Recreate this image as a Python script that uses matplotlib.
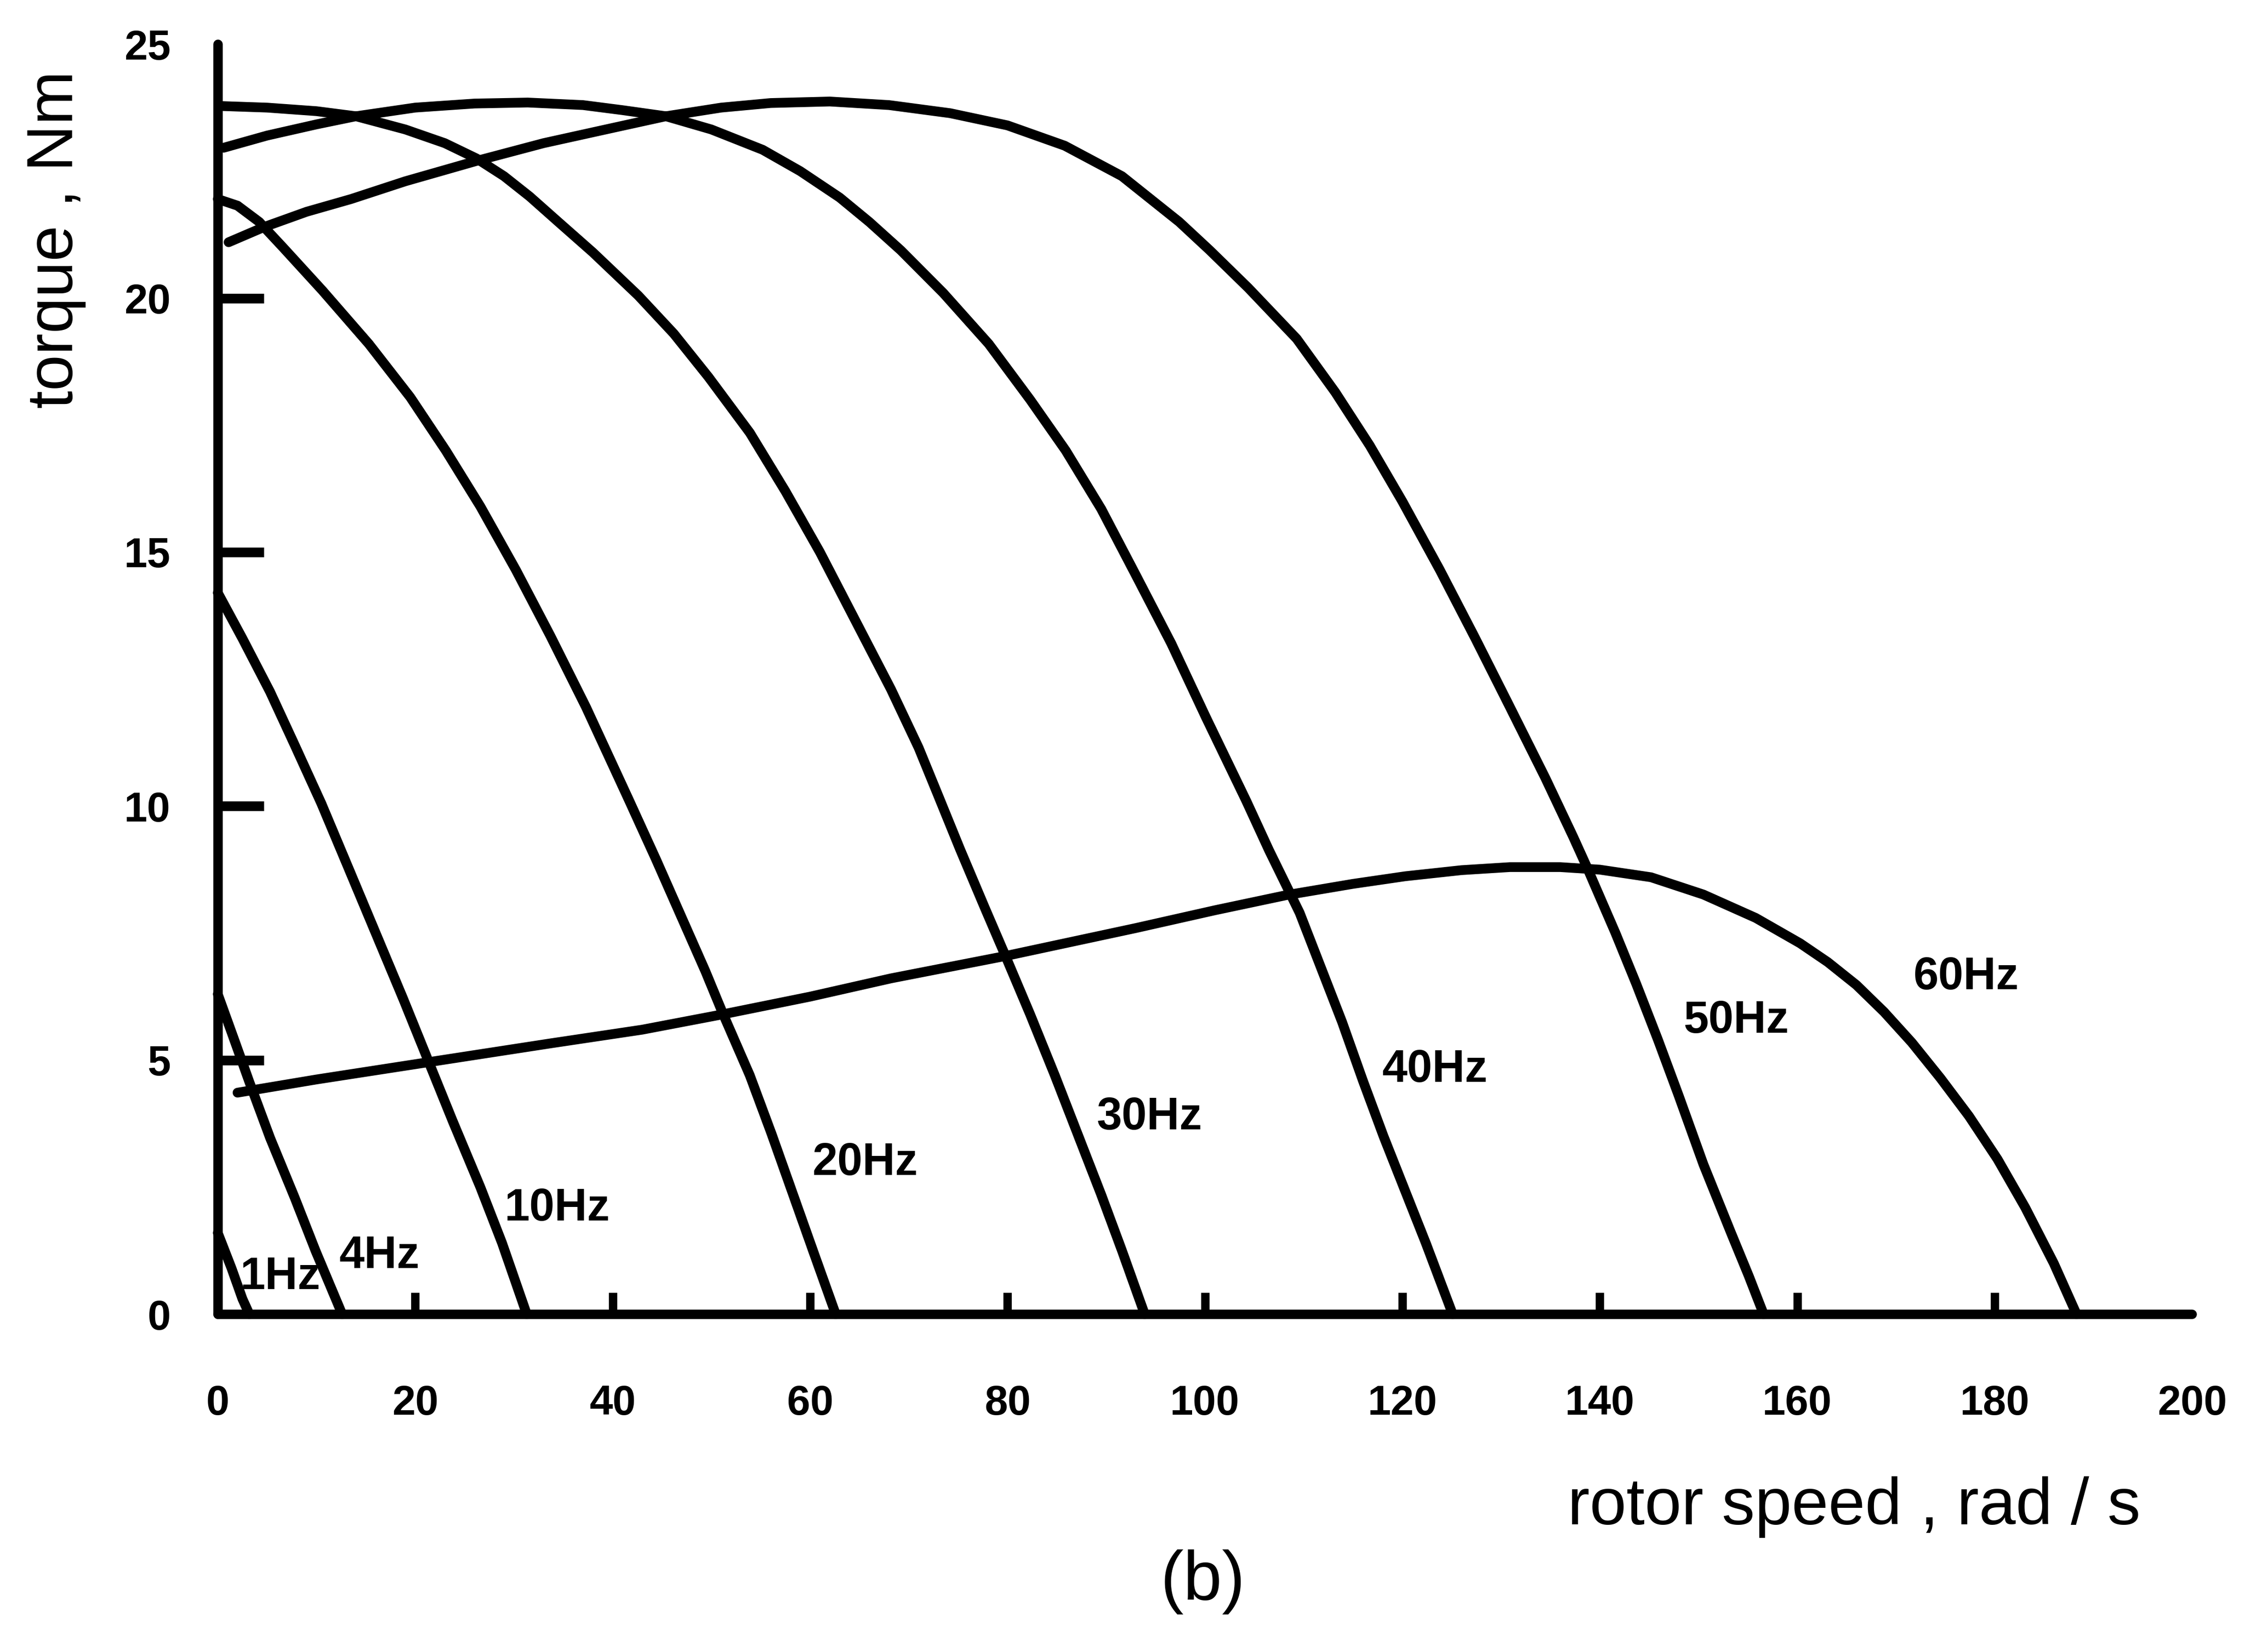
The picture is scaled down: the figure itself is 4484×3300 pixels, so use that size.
import matplotlib
matplotlib.use("Agg")
import matplotlib.pyplot as plt

FONT = ['Liberation Sans', 'DejaVu Sans']

# torque-speed curves of the motor at each supply frequency
speed_1hz = [0, 1.4, 2.5, 3.2]
torque_1hz = [1.6, 0.9, 0.3, 0]

speed_4hz = [0, 1.8, 3.2, 5.3, 7.8, 9.9, 12.6]
torque_4hz = [6.3, 5.33, 4.57, 3.47, 2.29, 1.25, 0]

speed_10hz = [0, 2.5, 5.3, 7.8, 10.5, 13.2, 16.0, 18.8, 21.3, 23.8, 26.6, 28.8, 31.3]
torque_10hz = [14.2, 13.3, 12.25, 11.2, 10.05, 8.8, 7.5, 6.2, 5.0, 3.8, 2.5, 1.4, 0]

speed_20hz = [0, 2.0, 4.2, 6.6, 10.6, 15.3, 19.5, 23.1, 26.6, 30.2, 33.7, 37.3, 41.7,
              44.4, 46.9, 49.4, 51.1, 53.9, 56.1, 58.2, 60.3, 62.6]
torque_20hz = [21.95, 21.82, 21.5, 21.0, 20.15, 19.1, 18.05, 17.0, 15.9, 14.65, 13.35, 11.95,
               10.1, 8.95, 7.85, 6.75, 5.95, 4.7, 3.55, 2.4, 1.25, 0]

speed_30hz = [0.5, 5, 10, 14.0, 19, 23, 26.2, 29, 31.6, 34.5, 38.0, 42.6, 46.2, 49.7, 53.9,
              57.5, 61.0, 64.6, 68.2, 71.0, 73.0, 75.2, 77.7, 79.8, 82.3, 84.8, 86.9, 89.5,
              91.6, 93.9]
torque_30hz = [23.78, 23.75, 23.68, 23.58, 23.32, 23.05, 22.75, 22.4, 22.0, 21.5, 20.9, 20.05,
               19.3, 18.45, 17.35, 16.2, 15.0, 13.65, 12.3, 11.15, 10.2, 9.15, 8.0, 7.05, 5.9,
               4.7, 3.65, 2.35, 1.25, 0]

speed_40hz = [0.6, 5, 10, 14.0, 20, 26, 31.4, 37, 41, 45.4, 50, 55.2, 59, 63.0, 66, 69.2,
              73.5, 78.1, 82.3, 85.9, 89.5, 93.0, 96.6, 100.1, 104.2, 106.5, 109.6, 111.7,
              113.9, 116.0, 118.1, 120.3, 122.4, 125.1]
torque_40hz = [22.96, 23.2, 23.42, 23.58, 23.75, 23.83, 23.85, 23.8, 23.7, 23.58, 23.32, 22.92,
               22.5, 21.98, 21.5, 20.94, 20.1, 19.1, 18.0, 17.0, 15.85, 14.55, 13.2, 11.75,
               10.1, 9.13, 7.9, 6.85, 5.75, 4.6, 3.5, 2.42, 1.39, 0]

speed_50hz = [1.1, 4.7, 9, 13.5, 19, 26.2, 33, 40, 45.4, 51, 56, 62, 68, 74.2, 80.0, 85.8,
              91.6, 97.4, 100.5, 104.4, 109.3, 113.2, 116.7, 120.0, 123.8, 127.4, 130.9,
              134.5, 137.3, 138.7, 141.6, 143.7, 145.9, 148.0, 150.5, 153.3, 155.1, 156.6]
torque_50hz = [21.1, 21.4, 21.7, 21.95, 22.3, 22.7, 23.05, 23.35, 23.58, 23.75, 23.84, 23.87,
               23.8, 23.64, 23.4, 23.0, 22.4, 21.5, 20.94, 20.2, 19.2, 18.15, 17.1, 16.0, 14.65,
               13.3, 11.95, 10.55, 9.4, 8.8, 7.5, 6.5, 5.4, 4.3, 2.95, 1.6, 0.75, 0]

speed_60hz = [2.0, 10, 21.0, 33.7, 43, 51.1, 60, 68.2, 79.8, 93.0, 101, 108.3, 115, 120.3,
              126, 130.9, 136, 140, 145.2, 150.5, 155.8, 160.3, 163.1, 166.0, 168.8, 171.6,
              174.5, 177.4, 180.3, 183.1, 186.0, 188.3]
torque_60hz = [4.36, 4.62, 4.95, 5.33, 5.6, 5.9, 6.25, 6.61, 7.05, 7.6, 7.95, 8.25, 8.47, 8.62,
               8.74, 8.8, 8.8, 8.75, 8.6, 8.26, 7.8, 7.3, 6.93, 6.48, 5.95, 5.35, 4.65, 3.9,
               3.05, 2.1, 1.0, 0]

curves = [(speed_1hz, torque_1hz), (speed_4hz, torque_4hz), (speed_10hz, torque_10hz),
          (speed_20hz, torque_20hz), (speed_30hz, torque_30hz), (speed_40hz, torque_40hz),
          (speed_50hz, torque_50hz), (speed_60hz, torque_60hz)]

freq_labels = ['1Hz', '4Hz', '10Hz', '20Hz', '30Hz', '40Hz', '50Hz', '60Hz']
label_x = [6.3, 16.4, 34.4, 65.6, 94.4, 123.3, 153.8, 177.1]
label_y = [0.49, 0.91, 1.84, 2.74, 3.64, 4.57, 5.54, 6.40]

x_ticks = [0, 20, 40, 60, 80, 100, 120, 140, 160, 180, 200]
y_ticks = [0, 5, 10, 15, 20, 25]


fig = plt.figure(figsize=(44.84, 33.0), dpi=100)
ax = fig.add_axes([0.0970, 0.2045, 0.8794, 0.7688])

for speed, torque in curves:
    ax.plot(speed, torque, color='black', lw=14, solid_capstyle='round',
            solid_joinstyle='round', clip_on=False)

for text, lx, ly in zip(freq_labels, label_x, label_y):
    ax.text(lx, ly, text, ha='center', va='baseline', fontsize=65,
            fontweight='bold', family=FONT)

ax.set_xlim(0, 200)
ax.set_ylim(0, 25)

for side in ['top', 'right']:
    ax.spines[side].set_visible(False)
for side in ['left', 'bottom']:
    ax.spines[side].set_linewidth(13.5)
    ax.spines[side].set_capstyle('round')

ax.set_xticks(x_ticks)
ax.set_yticks(y_ticks)
ax.set_xticklabels([str(t) for t in x_ticks], fontsize=60, fontweight='bold', family=FONT)
ax.set_yticklabels([str(t) for t in y_ticks], fontsize=60, fontweight='bold', family=FONT)
ax.tick_params(axis='x', direction='in', length=31, width=12, pad=101)
ax.tick_params(axis='y', direction='in', length=66, width=14, pad=68)

# no tick marks at the ends of the axes
for tick in [ax.xaxis.get_major_ticks()[0], ax.xaxis.get_major_ticks()[-1],
             ax.yaxis.get_major_ticks()[0], ax.yaxis.get_major_ticks()[-1]]:
    tick.tick1line.set_visible(False)

fig.text(112 / 4484, 1 - 479 / 3300, 'torque , Nm', rotation=90, ha='center', va='center',
         fontsize=93, family=FONT)
fig.text(3703 / 4484, 1 - 3045 / 3300, 'rotor speed , rad / s', ha='center', va='baseline',
         fontsize=95, family=FONT)
fig.text(2402 / 4484, 1 - 3160 / 3300, '(b)', ha='center', va='center',
         fontsize=100, family=FONT)

fig.savefig('out.png', dpi=100, facecolor='white')
